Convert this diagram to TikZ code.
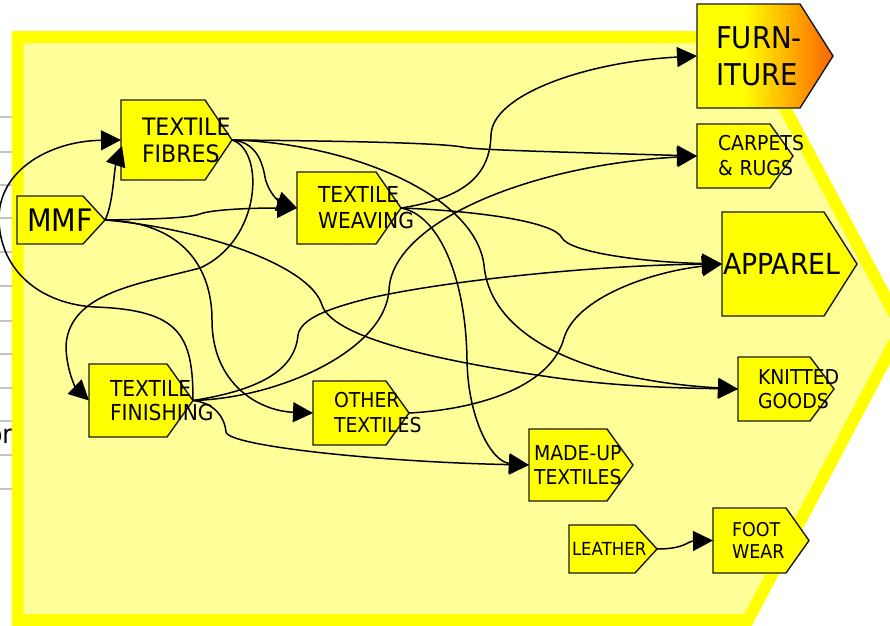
\documentclass[tikz,border=0pt]{standalone}
\usepackage{fontspec}
\setmainfont{DejaVu Sans}[FakeStretch=0.92]
\usetikzlibrary{arrows.meta,calc}

\definecolor{bandyellow}{HTML}{FFFF00}
\definecolor{paleyellow}{HTML}{FFFF99}
\definecolor{tagyellow}{HTML}{FFFF00}
\definecolor{furnorange}{HTML}{FF6400}
\definecolor{ruleGray}{HTML}{C4C4C4}

% yellow on the left, orange towards the pointed end
\pgfdeclarehorizontalshading{furnshade}{100bp}{color(0bp)=(tagyellow); color(25bp)=(tagyellow); color(42bp)=(tagyellow); color(75bp)=(furnorange); color(100bp)=(furnorange)}

\newcommand\fsz[2]{\fontsize{#1}{#2}\selectfont}

% pentagon tag: #1 name, #2 node options, #3 left, #4 top, #5 tip x, #6 bottom,
% #7 depth of the point, #8 text indent; the node text follows the call
\newcommand\tagbox[8]{%
  \pgfmathsetmacro\tagW{#5-#3}%
  \pgfmathsetmacro\tagH{#6-#4}%
  \pgfmathsetmacro\tagT{#5-#3-2*#8}%
  \pgfmathsetmacro\tagX{(#3+#5)/2}%
  \pgfmathsetmacro\tagY{(#4+#6)/2}%
  \pgfmathsetmacro\tagK{#5-#7}%
  \path[tagline] (#3,#4) -- (\tagK,#4) -- (#5,\tagY) -- (\tagK,#6) -- (#3,#6) -- cycle;
  \node[tagtext,#2,minimum width=\tagW pt,minimum height=\tagH pt,text width=\tagT pt] (#1) at (\tagX,\tagY)}

\begin{document}
\begin{tikzpicture}[x=1pt,y=-1pt,
  tagline/.style={draw=black!90, fill=tagyellow, line width=1.4pt, line join=miter},
  tagtext/.style={inner sep=0pt, outer sep=0pt, align=left, text=black},
  conn/.style={draw=black, line width=1.5pt, -{Triangle[length=20pt,width=20pt]}},
  ruleline/.style={draw=ruleGray, line width=1.8pt}]
\useasboundingbox (0,0) rectangle (890,625);
\fill[white] (0,0) rectangle (890,625);

% table rules and a word peeking out on the left
\foreach \ry in {117,152,185,218,252,286,321,354,388,421,455,489}
  \draw[ruleline] (0,\ry) -- (13,\ry);
\node[anchor=base east, inner sep=0pt, font=\fsz{26}{30}] (ortext) at (12.5,443) {or};

% large chevron background
\draw[line width=12pt, draw=bandyellow, fill=paleyellow, line join=miter]
  (17.5,37) -- (747,37) -- (902,328) -- (748,620) -- (17.5,620) -- cycle;

% tags
\tagbox{mmf}{font=\fsz{31}{35}}{17}{196}{105}{244}{22}{10}{MMF};
\tagbox{fibres}{font=\fsz{24}{27}}{121}{100}{232}{180}{27}{21}{TEXTILE\\FIBRES};
\tagbox{weaving}{font=\fsz{22}{26}}{297}{172}{401}{244}{25}{21}{TEXTILE\\WEAVING};
\tagbox{finishing}{font=\fsz{22}{24.5}}{89}{364}{193}{437}{26}{21}{TEXTILE\\FINISHING};
\tagbox{other}{font=\fsz{20.5}{25}}{313}{381}{409}{445}{23}{21}{OTHER\\TEXTILES};
\tagbox{madeup}{font=\fsz{20.5}{24}}{529}{429}{633}{501}{26}{5}{\mbox{MADE-UP}\\TEXTILES};
\tagbox{leather}{font=\fsz{18}{20}}{569}{525}{657}{573}{22}{3}{LEATHER};
\tagbox{footwear}{font=\fsz{19}{22}}{713}{508}{809}{573}{23}{19}{FOOT\\WEAR};
\tagbox{knitted}{font=\fsz{20.5}{24}}{738}{357}{834}{421}{24}{20}{KNITTED\\GOODS};
\tagbox{apparel}{font=\fsz{29}{34}}{722}{212}{857}{316}{33}{1}{APPAREL};
\tagbox{carpets}{font=\fsz{20.5}{25}}{697}{124}{793}{188}{23}{21}{CARPETS\\\&~RUGS};
\begin{scope}[tagline/.append style={shade, shading=furnshade}]
\tagbox{furniture}{font=\fsz{30}{37}}{697}{4}{833}{108}{33}{19}{FURN-\\ITURE};
\end{scope}

% from MMF
\draw[conn] (mmf.east) .. controls (113,205) and (114,170) .. ($(fibres.west)+(1,6)$);
\draw[conn] (mmf.east) .. controls (160,219) and (188,218) .. (200,214)
  .. controls (210,210) and (245,208) .. (weaving.west);
\draw[conn] (mmf.east) .. controls (185,222) and (212,270) .. (212,320)
  .. controls (212,385) and (260,411) .. (other.west);
\draw[conn] (mmf.east) .. controls (200,228) and (310,265) .. (322,305)
  .. controls (332,335) and (420,358) .. (550,377)
  .. controls (620,387) and (680,388) .. (knitted.west);

% from textile fibres
\draw[conn] (fibres.east) .. controls (255,142) and (262,160) .. (265,177)
  .. controls (268,193) and (280,202) .. (weaving.west);
\draw[conn] (fibres.east) .. controls (350,141) and (440,143) .. (462,147)
  .. controls (475,150) and (560,152) .. (carpets.west);
\draw[conn] (fibres.east) .. controls (350,143) and (475,195) .. (484,265)
  .. controls (490,335) and (580,380) .. (knitted.west);
\draw[conn] (fibres.east) .. controls (265,150) and (262,240) .. (200,268)
  .. controls (140,284) and (70,292) .. (66,345)
  .. controls (66,370) and (76,388) .. (finishing.west);

% from textile finishing
\draw[conn] (finishing.east) .. controls (193,335) and (180,310) .. (95,307)
  .. controls (40,304) and (-1,270) .. (-1,218)
  .. controls (-1,170) and (50,141) .. (fibres.west);
\draw[conn] (finishing.east) .. controls (280,398) and (385,350) .. (389,290)
  .. controls (392,222) and (530,165) .. (carpets.west);
\draw[conn] (finishing.east) .. controls (260,390) and (295,370) .. (298,335)
  .. controls (301,318) and (330,308) .. (370,298)
  .. controls (450,280) and (600,265) .. (apparel.west);
\draw[conn] (finishing.east) .. controls (215,403) and (225,418) .. (226,432)
  .. controls (228,446) and (380,462) .. (madeup.west);

% from textile weaving
\draw[conn] (weaving.east) .. controls (465,198) and (490,175) .. (491,135)
  .. controls (492,95) and (585,62) .. (furniture.west);
\draw[conn] (weaving.east) .. controls (480,211) and (555,222) .. (562,238)
  .. controls (570,252) and (640,262) .. (apparel.west);
\draw[conn] (weaving.east) .. controls (440,215) and (466,280) .. (467,360)
  .. controls (468,420) and (492,462) .. (madeup.west);

% from other textiles
\draw[conn] (other.east) .. controls (470,410) and (550,390) .. (564,338)
  .. controls (576,298) and (650,272) .. (apparel.west);

% leather to footwear
\draw[conn] (leather.east) .. controls (685,549) and (688,541) .. (footwear.west);
\end{tikzpicture}
\end{document}
